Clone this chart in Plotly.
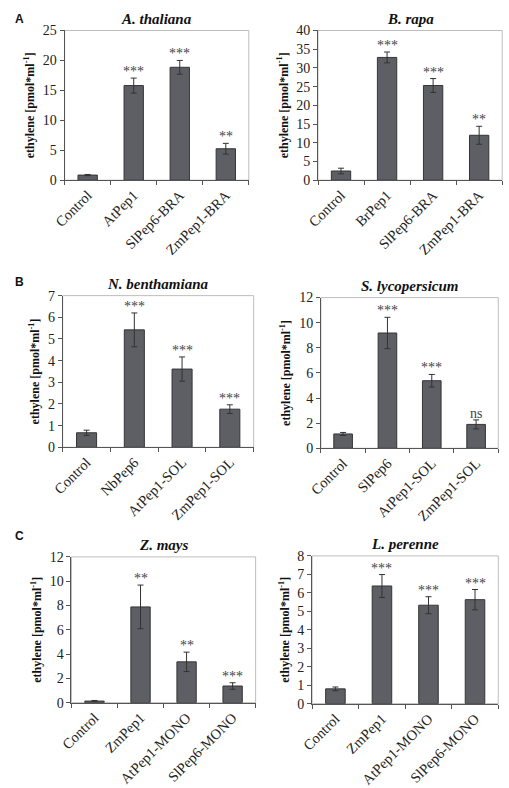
import plotly.graph_objects as go

W, H = 509, 788

# ---- data ----
titles = ["A. thaliana", "B. rapa", "N. benthamiana", "S. lycopersicum", "Z. mays", "L. perenne"]

cats_a1 = ["Control", "AtPep1", "SlPep6-BRA", "ZmPep1-BRA"]
vals_a1 = [0.85, 15.8, 18.85, 5.25]
errs_a1 = [0.1, 1.25, 1.15, 0.9]
sig_a1 = ["", "***", "***", "**"]

cats_a2 = ["Control", "BrPep1", "SlPep6-BRA", "ZmPep1-BRA"]
vals_a2 = [2.45, 32.8, 25.3, 12.0]
errs_a2 = [0.75, 1.45, 1.85, 2.4]
sig_a2 = ["", "***", "***", "**"]

cats_b1 = ["Control", "NbPep6", "AtPep1-SOL", "ZmPep1-SOL"]
vals_b1 = [0.67, 5.42, 3.61, 1.76]
errs_b1 = [0.12, 0.78, 0.56, 0.2]
sig_b1 = ["", "***", "***", "***"]

cats_b2 = ["Control", "SlPep6", "AtPep1-SOL", "ZmPep1-SOL"]
vals_b2 = [1.14, 9.18, 5.38, 1.9]
errs_b2 = [0.12, 1.25, 0.5, 0.36]
sig_b2 = ["", "***", "***", "ns"]

cats_c1 = ["Control", "ZmPep1", "AtPep1-MONO", "SlPep6-MONO"]
vals_c1 = [0.13, 7.88, 3.36, 1.37]
errs_c1 = [0.05, 1.8, 0.8, 0.27]
sig_c1 = ["", "**", "**", "***"]

cats_c2 = ["Control", "ZmPep1", "AtPep1-MONO", "SlPep6-MONO"]
vals_c2 = [0.8, 6.37, 5.33, 5.63]
errs_c2 = [0.1, 0.62, 0.46, 0.55]
sig_c2 = ["", "***", "***", "***"]

ymax = [25, 40, 7, 12, 12, 8]
ydtick = [5, 5, 1, 2, 2, 1]
letters = ["A", "B", "C"]

panels = [
    (cats_a1, vals_a1, errs_a1, sig_a1),
    (cats_a2, vals_a2, errs_a2, sig_a2),
    (cats_b1, vals_b1, errs_b1, sig_b1),
    (cats_b2, vals_b2, errs_b2, sig_b2),
    (cats_c1, vals_c1, errs_c1, sig_c1),
    (cats_c2, vals_c2, errs_c2, sig_c2),
]

# plot-area pixel boxes (x0, x1, ytop, ybottom)
boxes = [
    (53, 242, 24, 177),
    (313, 502, 24, 177),
    (51, 247, 295, 450),
    (316, 498, 297, 451),
    (60, 249, 562, 711),
    (307, 498, 561, 712),
]
letter_y = [3, 272, 531]

SERIF = "Liberation Serif, Times New Roman, serif"
BAR = "#5d5f64"
EDGE = "#353535"
AXIS = "#555555"

fig = go.Figure()
annotations = []
shapes = []

for i, ((cats, vals, errs, sig), (x0, x1, yt, yb)) in enumerate(zip(panels, boxes)):
    n = "" if i == 0 else str(i + 1)
    xa, ya = "x" + n, "y" + n
    fig.add_trace(go.Bar(
        x=cats, y=vals, xaxis=xa, yaxis=ya,
        marker=dict(color=BAR, line=dict(color=EDGE, width=1)),
        error_y=dict(type="data", array=errs, visible=True, color="#333333",
                     thickness=1, width=3),
        width=0.42, showlegend=False, hoverinfo="skip",
    ))
    xdom = [x0 / W, x1 / W]
    ydom = [1 - yb / H, 1 - yt / H]
    fig.layout["xaxis" + n] = dict(
        domain=xdom, anchor=ya, type="category",
        showline=True, linecolor=AXIS, linewidth=1,
        ticks="outside", tickson="boundaries", ticklen=4, tickcolor=AXIS,
        tickangle=-45, tickfont=dict(family=SERIF, size=14.5, color="#222"),
        showgrid=False, zeroline=False, fixedrange=True,
    )
    fig.layout["yaxis" + n] = dict(
        domain=ydom, anchor=xa, range=[0, ymax[i]], dtick=ydtick[i],
        showline=True, linecolor=AXIS, linewidth=1,
        ticks="outside", ticklen=4, tickcolor=AXIS,
        tickfont=dict(family=SERIF, size=14, color="#222"),
        showgrid=False, zeroline=False, fixedrange=True,
        title=dict(text="<b>ethylene [pmol*ml<sup>-1</sup>]</b>",
                   font=dict(family=SERIF, size=12, color="#111"), standoff=5),
    )
    # light frame on top/right
    shapes.append(dict(type="rect", xref=xa + " domain", yref=ya + " domain",
                       x0=0, x1=1, y0=0, y1=1,
                       line=dict(color="#bdbdbd", width=1), layer="below"))
    # panel title
    annotations.append(dict(text="<b><i>%s</i></b>" % titles[i],
                            xref=xa + " domain", yref="paper",
                            x=0.5, y=1 - (yt - 12) / H, yanchor="middle",
                            showarrow=False,
                            font=dict(family=SERIF, size=15, color="#111")))
    # significance labels
    for c, v, e, s in zip(cats, vals, errs, sig):
        if s:
            annotations.append(dict(text=s, x=c, y=v + e, xref=xa, yref=ya,
                                    yanchor="bottom", showarrow=False, yshift=-3,
                                    font=dict(family=SERIF, size=14, color="#444")))

for L, ly in zip(letters, letter_y):
    annotations.append(dict(text="<b>%s</b>" % L, xref="paper", yref="paper",
                            x=0 / W, y=1 - ly / H, xanchor="left", yanchor="top",
                            showarrow=False,
                            font=dict(family="Liberation Sans, Arial, sans-serif",
                                      size=12, color="#111")))

fig.update_layout(
    width=W, height=H, margin=dict(l=0, r=0, t=0, b=0),
    paper_bgcolor="white", plot_bgcolor="white",
    annotations=annotations, shapes=shapes,
)

fig.write_html("out.html", config={"displayModeBar": False})
